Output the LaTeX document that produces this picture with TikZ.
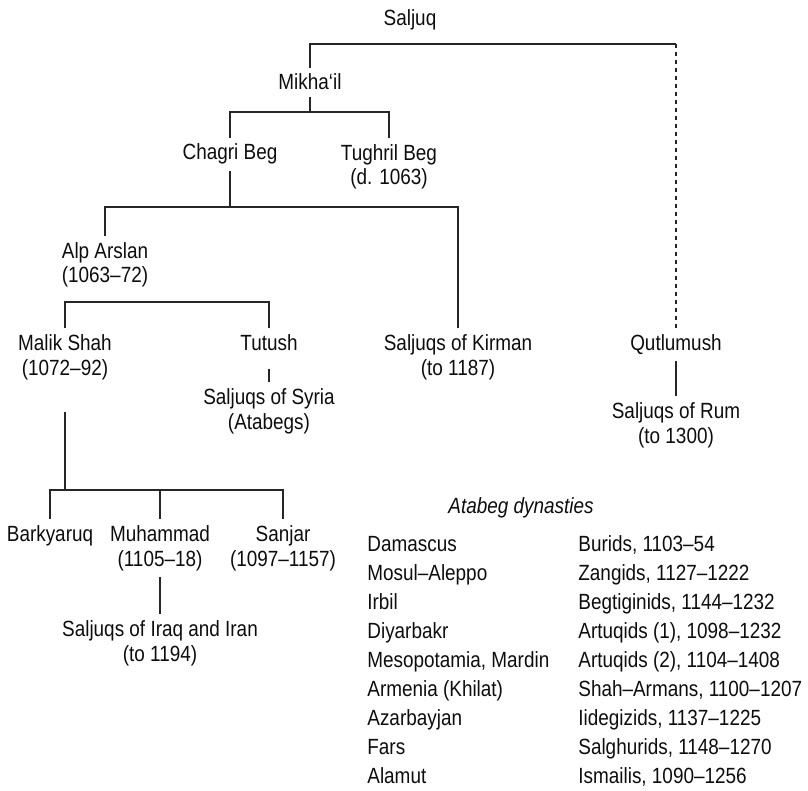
\documentclass[tikz,border=0pt]{standalone}
\usepackage{fontspec}
\setmainfont{Liberation Sans}[FakeStretch=0.86]
\usepackage{tikz}
\usetikzlibrary{positioning, calc}

\begin{document}
\begin{tikzpicture}[
    x=0.5pt, y=-0.5pt,
    ruler/.style={font=\fontsize{11}{12.5}\selectfont, text=black!95, align=center,
                  anchor=base, inner sep=3pt},
    entry/.style={font=\fontsize{11}{12.5}\selectfont, text=black!95,
                  anchor=base west, inner sep=0pt},
    link/.style={draw=black!85, line width=0.6pt}
]
    \useasboundingbox (0,0) rectangle (808,791);

    % Bar levels
    \coordinate (b1) at (0,44);
    \coordinate (b2) at (0,112);
    \coordinate (b3) at (0,207);
    \coordinate (b4) at (0,302);
    \coordinate (b5) at (0,490);

    % Top of the house (two-line nodes sit on their last line)
    \node[ruler] (saljuq) at (410,26) {Saljuq};
    \node[ruler] (mikhail) at (310,90) {Mikha‘il};
    \node[ruler] (chagri) at (230,160) {Chagri Beg};
    \node[ruler] (tughril) at (389,185) {Tughril Beg\\(d. 1063)};

    % Alp Arslan and his sons
    \node[ruler] (alp) at (105,283) {Alp Arslan\\(1063--72)};
    \node[ruler] (malik) at (65,375) {Malik Shah\\(1072--92)};
    \node[ruler] (tutush) at (269,350) {Tutush};
    \node[ruler] (syria) at (269,429) {Saljuqs of Syria\\(Atabegs)};
    \node[ruler] (kirman) at (458,375) {Saljuqs of Kirman\\(to 1187)};

    % Rum branch
    \node[ruler] (qutlumush) at (676,350) {Qutlumush};
    \node[ruler] (rum) at (676,443) {Saljuqs of Rum\\(to 1300)};

    % Sons of Malik Shah
    \node[ruler] (barkyaruq) at (50,541) {Barkyaruq};
    \node[ruler] (muhammad) at (160,566) {Muhammad\\(1105--18)};
    \node[ruler] (sanjar) at (283,566) {Sanjar\\(1097--1157)};
    \node[ruler] (iraq) at (160,661) {Saljuqs of Iraq and Iran\\(to 1194)};

    % Lines of descent
    \draw[link] (mikhail.north) -- (mikhail.north |- b1) -- (qutlumush.north |- b1);
    \draw[link, dash pattern=on 2pt off 2pt] (qutlumush.north |- b1) -- (qutlumush.north);
    \draw[link] (mikhail.south) -- (mikhail.south |- b2);
    \draw[link] (chagri.north) -- (chagri.north |- b2) -- (tughril.north |- b2) -- (tughril.north);
    \draw[link] (chagri.south) -- (chagri.south |- b3);
    \draw[link] (alp.north) -- (alp.north |- b3) -- (kirman.north |- b3) -- (kirman.north);
    \draw[link] (malik.north) -- (malik.north |- b4) -- (tutush.north |- b4) -- (tutush.north);
    \draw[link] ([yshift=-6pt]tutush.south) -- (syria.north);
    \draw[link] (qutlumush.south) -- (rum.north);
    \draw[link] ([yshift=-13pt]malik.south) -- (malik.south |- b5);
    \draw[link] (barkyaruq.north) -- (barkyaruq.north |- b5) -- (sanjar.north |- b5) -- (sanjar.north);
    \draw[link] (muhammad.north) -- (muhammad.north |- b5);
    \draw[link] (muhammad.south) -- (iraq.north);

    % Atabeg dynasties
    \node[ruler, font=\fontsize{11}{12.5}\selectfont\itshape] (atabeg) at (521,513) {Atabeg dynasties};
    \node[entry] (p1) at (367,551) {Damascus};
    \node[entry] (d1) at (578,551) {Burids, 1103--54};
    \node[entry] (p2) at (367,580) {Mosul--Aleppo};
    \node[entry] (d2) at (578,580) {Zangids, 1127--1222};
    \node[entry] (p3) at (367,609) {Irbil};
    \node[entry] (d3) at (578,609) {Begtiginids, 1144--1232};
    \node[entry] (p4) at (367,638) {Diyarbakr};
    \node[entry] (d4) at (578,638) {Artuqids (1), 1098--1232};
    \node[entry] (p5) at (367,667) {Mesopotamia, Mardin};
    \node[entry] (d5) at (578,667) {Artuqids (2), 1104--1408};
    \node[entry] (p6) at (367,696) {Armenia (Khilat)};
    \node[entry] (d6) at (578,696) {Shah--Armans, 1100--1207};
    \node[entry] (p7) at (367,725) {Azarbayjan};
    \node[entry] (d7) at (578,725) {Iidegizids, 1137--1225};
    \node[entry] (p8) at (367,754) {Fars};
    \node[entry] (d8) at (578,754) {Salghurids, 1148--1270};
    \node[entry] (p9) at (367,783) {Alamut};
    \node[entry] (d9) at (578,783) {Ismailis, 1090--1256};

\end{tikzpicture}
\end{document}
